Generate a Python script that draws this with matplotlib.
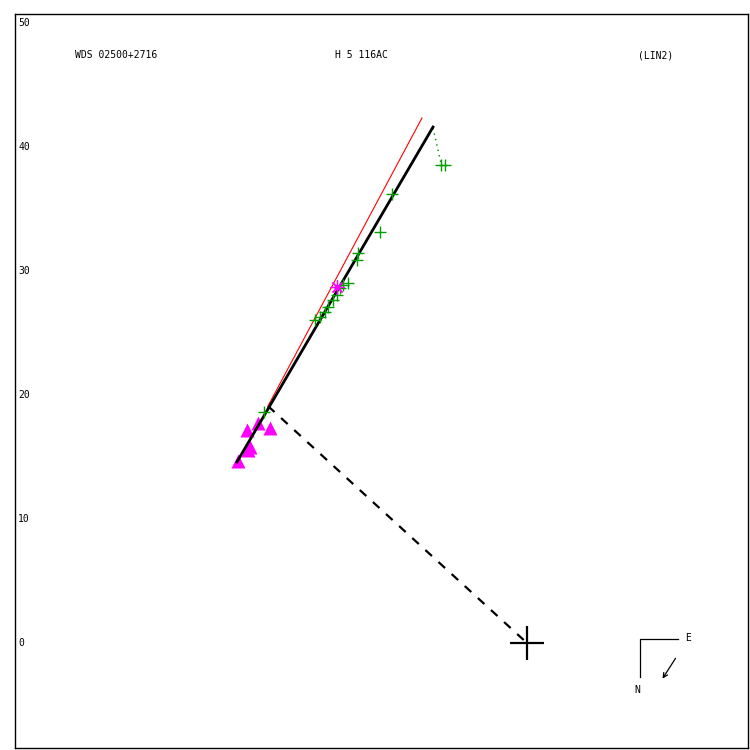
import matplotlib
matplotlib.use("Agg")
import matplotlib.pyplot as plt

# ---- data (arcsec-like units, origin = primary) ----
green_x = [-21.21, -17.10, -16.69, -16.29, -16.05, -15.65, -15.32, -15.08, -14.84, -14.44,
           -13.71, -13.63, -11.85, -10.89, -6.94, -6.61]
green_y = [18.63, 26.05, 26.29, 26.69, 27.10, 27.66, 28.06, 28.63, 28.87, 29.03,
           30.89, 31.45, 33.15, 36.21, 38.55, 38.55]
tri_x = [-22.58, -21.69, -20.73, -22.34, -22.50, -23.31]
tri_y = [17.18, 17.74, 17.34, 15.81, 15.56, 14.68]
star_x = [-15.32]
star_y = [28.71]
fit_x = [-23.39, -7.58]
fit_y = [14.60, 41.61]
red_x = [-20.89, -8.47]
red_y = [19.11, 42.34]
dash_x = [-20.89, 0.0]
dash_y = [19.11, 0.0]
resid_x = [-7.58, -6.94]
resid_y = [41.53, 38.71]
ytick_vals = [0, 10, 20, 30, 40, 50]
title_left = "WDS 02500+2716"
title_mid = "H 5 116AC"
title_right = "(LIN2)"

S = 12.4  # px per unit
OX, OY = 527, 643
def px2d(px, py):
    return ((px - OX) / S, (OY - py) / S)

fig = plt.figure(figsize=(7.5, 7.5), dpi=100)
L, R, T, B = 15, 748, 14, 748
ax = fig.add_axes([L / 750, 1 - B / 750, (R - L) / 750, (B - T) / 750])
ax.set_xlim(px2d(L, 0)[0], px2d(R, 0)[0])
ax.set_ylim(px2d(0, B)[1], px2d(0, T)[1])
ax.set_xticks([]); ax.set_yticks([])
for s in ax.spines.values():
    s.set_linewidth(1.0)
    s.set_color("black")

mono = "DejaVu Sans Mono"

# lines
ax.plot(dash_x, dash_y, color="black", lw=1.6, ls=(0, (4, 4)), zorder=2)
ax.plot(red_x, red_y, color="red", lw=0.8, zorder=3)
ax.plot(fit_x, fit_y, color="black", lw=2.0, zorder=4)
ax.plot(resid_x, resid_y, color="green", lw=1.0, ls=(0, (1, 3)), zorder=2)

# markers
ax.plot(tri_x, tri_y, ls="none", marker="^", ms=9.5, color="#ff00ff", mec="none", zorder=2)
ax.plot(green_x, green_y, ls="none", marker="+", ms=9, mew=1.0, color="#00a000", zorder=5)
ax.plot(star_x, star_y, ls="none", marker=(8, 2, 0), ms=10, mew=0.9, color="#ff00ff", zorder=5)
ax.plot([0], [0], ls="none", marker="+", ms=25, mew=1.6, color="black", zorder=6)

# y labels inside axes
for v in ytick_vals:
    ax.text(px2d(18, 0)[0], v, str(v), family=mono, fontsize=7, ha="left", va="center")

# titles
ty = px2d(0, 55)[1]
ax.text(px2d(75, 0)[0], ty, title_left, family=mono, fontsize=7, ha="left", va="center")
ax.text(px2d(335, 0)[0], ty, title_mid, family=mono, fontsize=7, ha="left", va="center")
ax.text(px2d(638, 0)[0], ty, title_right, family=mono, fontsize=7, ha="left", va="center")

# compass
c0 = px2d(640, 639); c1 = px2d(678, 639); c2 = px2d(640, 677)
ax.plot([c1[0], c0[0], c2[0]], [c1[1], c0[1], c2[1]], color="black", lw=0.9)
e = px2d(688, 638); n = px2d(637, 690)
ax.text(e[0], e[1], "E", family=mono, fontsize=7, ha="center", va="center")
ax.text(n[0], n[1], "N", family=mono, fontsize=7, ha="center", va="center")
a0 = px2d(677, 656); a1 = px2d(661, 681)
ax.annotate("", xy=a1, xytext=a0,
            arrowprops=dict(arrowstyle="->", lw=0.9, color="black", mutation_scale=8))

fig.savefig("out.png", dpi=100)
